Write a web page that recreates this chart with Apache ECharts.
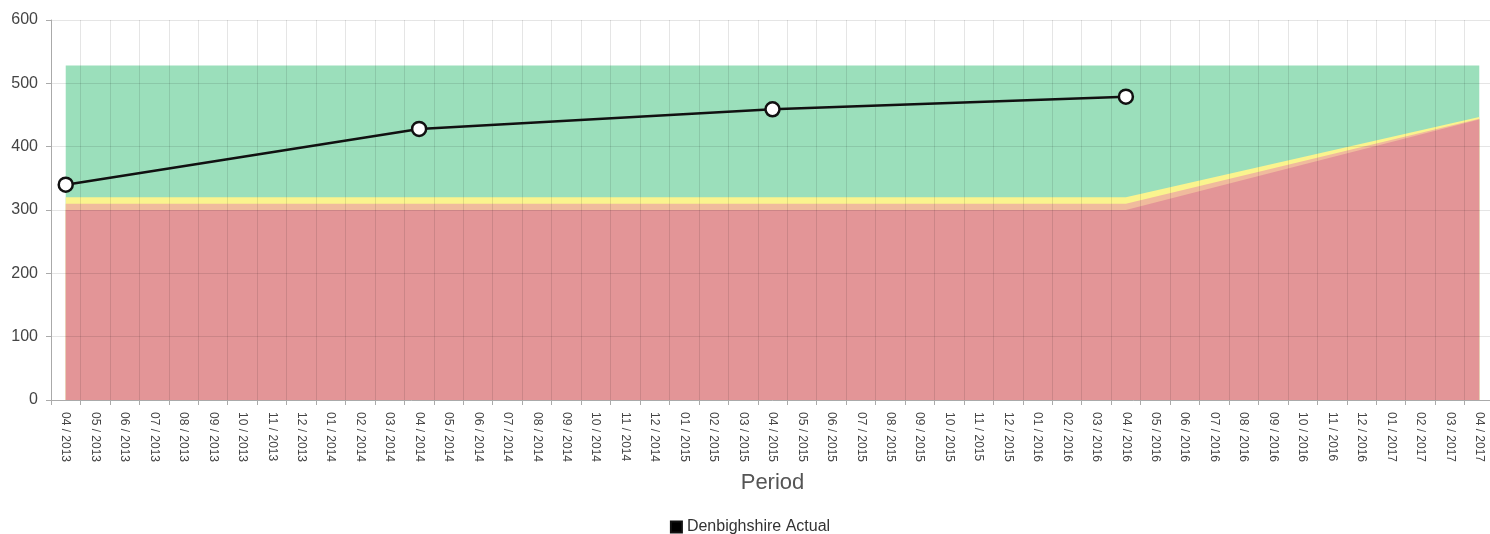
<!DOCTYPE html>
<html>
<head>
<meta charset="utf-8">
<script src="https://cdn.jsdelivr.net/npm/echarts@6/dist/echarts.min.js"></script>
<style>html,body{margin:0;padding:0;background:#fff;overflow:hidden}#c{width:1500px;height:534px}</style>
</head>
<body>
<div id="c"></div>
<script>
// Categories: months 04/2013 .. 04/2017
const categories = [
  "04 / 2013","05 / 2013","06 / 2013","07 / 2013","08 / 2013","09 / 2013","10 / 2013","11 / 2013","12 / 2013",
  "01 / 2014","02 / 2014","03 / 2014","04 / 2014","05 / 2014","06 / 2014","07 / 2014","08 / 2014","09 / 2014","10 / 2014","11 / 2014","12 / 2014",
  "01 / 2015","02 / 2015","03 / 2015","04 / 2015","05 / 2015","06 / 2015","07 / 2015","08 / 2015","09 / 2015","10 / 2015","11 / 2015","12 / 2015",
  "01 / 2016","02 / 2016","03 / 2016","04 / 2016","05 / 2016","06 / 2016","07 / 2016","08 / 2016","09 / 2016","10 / 2016","11 / 2016","12 / 2016",
  "01 / 2017","02 / 2017","03 / 2017","04 / 2017"
];
const yTicks = [0, 100, 200, 300, 400, 500, 600];

// Actual values (only at April of each year)
const actualPoints = { "04 / 2013": 340, "04 / 2014": 428, "04 / 2015": 459, "04 / 2016": 479 };
// Threshold band tops at breakpoints
const greenTopPoints  = { "04 / 2013": 528, "04 / 2017": 528 };
const yellowTopPoints = { "04 / 2013": 320, "04 / 2016": 320, "04 / 2017": 447 };
const orangeTopPoints = { "04 / 2013": 310, "04 / 2016": 310, "04 / 2017": 444 };
const redTopPoints    = { "04 / 2013": 300, "04 / 2016": 300, "04 / 2017": 443 };

function toSeries(points){ return categories.map(c => (c in points) ? points[c] : null); }

function band(name, points, color){
  return {
    name: name, type: 'line', data: toSeries(points), connectNulls: true,
    symbol: 'none', silent: true, z: 1,
    lineStyle: { width: 0, opacity: 0 },
    areaStyle: { color: color, opacity: 1 },
    emphasis: { disabled: true }
  };
}

const chart = echarts.init(document.getElementById('c'), null, { renderer: 'canvas' });
chart.setOption({
  backgroundColor: '#fff',
  animation: false,
  textStyle: { fontFamily: 'Liberation Sans, Arial, sans-serif' },
  grid: { left: 51, top: 20, width: 1443, bottom: 134, containLabel: false },
  legend: {
    data: [{ name: 'Denbighshire Actual', icon: 'rect', itemStyle: { color: '#000' } }],
    top: 514, left: 'center', itemWidth: 11, itemHeight: 11, itemGap: 10,
    textStyle: { fontSize: 16, color: '#333', fontFamily: 'Liberation Sans, Arial, sans-serif' }
  },
  xAxis: {
    type: 'category', data: categories, boundaryGap: true, z: 3,
    name: 'Period', nameLocation: 'middle', nameGap: 72,
    nameTextStyle: { fontSize: 22, color: '#555', fontFamily: 'Liberation Sans, Arial, sans-serif' },
    axisLine: { show: true, lineStyle: { color: '#aaa', width: 1 } },
    axisTick: { show: true, interval: 0, length: 5, lineStyle: { color: '#aaa' } },
    axisLabel: { interval: 0, rotate: -90, fontSize: 12, color: '#444', margin: 12 },
    splitLine: { show: true, interval: 0, lineStyle: { color: 'rgba(0,0,0,0.1)', width: 1 } }
  },
  yAxis: {
    type: 'value', min: yTicks[0], max: yTicks[yTicks.length - 1], interval: 100, z: 3,
    axisLine: { show: true, lineStyle: { color: '#aaa', width: 1 } },
    axisTick: { show: true, length: 5, lineStyle: { color: '#aaa' } },
    axisLabel: { fontSize: 16, color: '#444', margin: 13 },
    splitLine: { show: true, lineStyle: { color: 'rgba(0,0,0,0.1)', width: 1 } }
  },
  series: [
    band('green', greenTopPoints, '#9bdfbb'),
    band('yellow', yellowTopPoints, '#faf48e'),
    band('orange', orangeTopPoints, '#f0bb9d'),
    band('red', redTopPoints, '#e39597'),
    {
      name: 'Denbighshire Actual', type: 'line', data: toSeries(actualPoints), connectNulls: true,
      z: 10, symbol: 'circle', symbolSize: 14, showAllSymbol: true,
      lineStyle: { color: '#111', width: 2.5 },
      itemStyle: { color: '#fff', borderColor: '#111', borderWidth: 2.5 }
    }
  ]
});
</script>
</body>
</html>
